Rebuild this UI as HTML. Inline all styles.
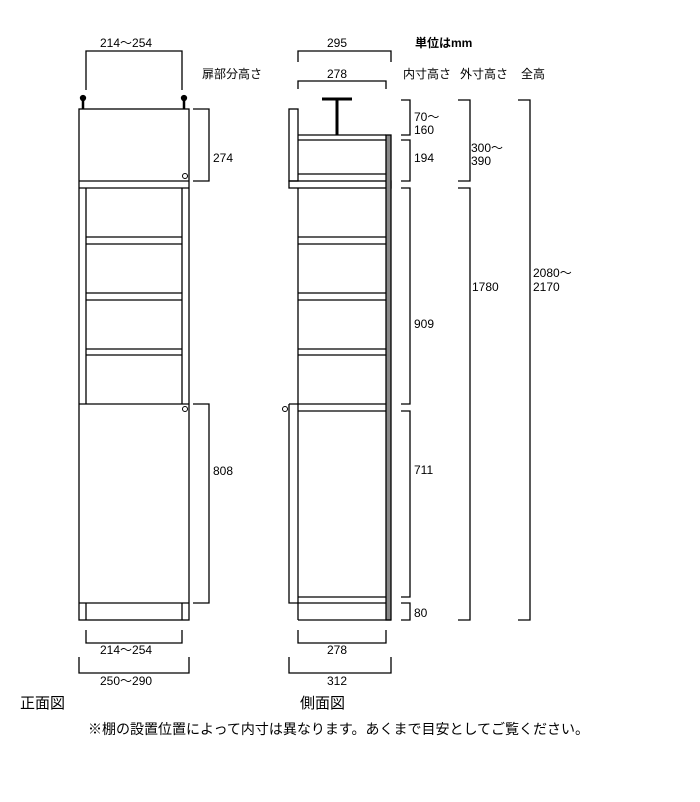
<!DOCTYPE html><html><head><style>body{margin:0;background:#fff}svg{display:block}text{font-family:"Liberation Sans","Noto Sans CJK JP",sans-serif;font-size:12px;fill:#000}</style></head><body>
<svg width="700" height="802" viewBox="0 0 700 802" fill="none" stroke="#000" stroke-width="1.3">
<!-- front view -->
<rect x="79" y="109" width="110" height="511"/>
<line x1="79" y1="181" x2="189" y2="181"/><line x1="79" y1="188" x2="189" y2="188"/>
<line x1="86" y1="188" x2="86" y2="404"/><line x1="182" y1="188" x2="182" y2="404"/>
<line x1="86" y1="237" x2="182" y2="237"/><line x1="86" y1="244" x2="182" y2="244"/>
<line x1="86" y1="293" x2="182" y2="293"/><line x1="86" y1="300" x2="182" y2="300"/>
<line x1="86" y1="349" x2="182" y2="349"/><line x1="86" y1="355" x2="182" y2="355"/>
<line x1="79" y1="404" x2="189" y2="404"/>
<line x1="79" y1="603" x2="189" y2="603"/>
<line x1="86" y1="603" x2="86" y2="620"/><line x1="182" y1="603" x2="182" y2="620"/>
<line x1="83" y1="99" x2="83" y2="109" stroke-width="2.5"/><circle cx="83" cy="98" r="2.5" fill="#000"/>
<line x1="184" y1="99" x2="184" y2="109" stroke-width="2.5"/><circle cx="184" cy="98" r="2.5" fill="#000"/>
<circle cx="185" cy="176" r="2.5" stroke-width="1"/><circle cx="185" cy="409" r="2.5" stroke-width="1"/>
<path d="M86 90V51H182V90"/>
<path d="M193 109H209V181H193"/><path d="M193 404H209V603H193"/>
<path d="M86 630V643H182V630"/><path d="M79 657V673H189V657"/>
<!-- side view -->
<rect x="289" y="109" width="9" height="72"/>
<rect x="289" y="181" width="102" height="7"/>
<line x1="298" y1="135" x2="386" y2="135"/><line x1="298" y1="140" x2="386" y2="140"/>
<line x1="298" y1="174" x2="386" y2="174"/>
<rect x="386" y="135" width="5" height="485" fill="#888"/>
<line x1="298" y1="188" x2="298" y2="620"/>
<line x1="298" y1="237" x2="386" y2="237"/><line x1="298" y1="244" x2="386" y2="244"/>
<line x1="298" y1="293" x2="386" y2="293"/><line x1="298" y1="300" x2="386" y2="300"/>
<line x1="298" y1="349" x2="386" y2="349"/><line x1="298" y1="355" x2="386" y2="355"/>
<line x1="289" y1="404" x2="386" y2="404"/><line x1="298" y1="411" x2="386" y2="411"/>
<path d="M289 404V603H298"/>
<line x1="298" y1="597" x2="386" y2="597"/><line x1="298" y1="603" x2="386" y2="603"/>
<line x1="298" y1="620" x2="391" y2="620"/>
<line x1="322" y1="99" x2="352" y2="99" stroke-width="3"/><line x1="337" y1="99" x2="337" y2="135" stroke-width="3"/>
<circle cx="285" cy="409" r="2.5" stroke-width="1"/>
<path d="M298 62V51H391V62"/><path d="M298 89V81H386V89"/>
<path d="M298 630V643H386V630"/><path d="M289 657V673H391V657"/>
<path d="M401 100H410V135H401"/><path d="M401 140H410V181H401"/>
<path d="M401 188H410V404H401"/><path d="M401 411H410V597H401"/>
<path d="M401 603H410V620H401"/>
<path d="M458 100H470V181H458"/><path d="M458 188H470V620H458"/>
<path d="M518 100H530V620H518"/>
</svg>
<div style="position:absolute;left:0;top:0;width:700px;height:802px">
<svg width="700" height="802" style="position:absolute;left:0;top:0">
<text x="100" y="47">214～254</text>
<text x="202" y="78">扉部分高さ</text>
<text x="213" y="162">274</text>
<text x="213" y="475">808</text>
<text x="100" y="654">214～254</text>
<text x="100" y="685">250～290</text>
<text x="20" y="708" style="font-size:15px">正面図</text>
<text x="327" y="47">295</text>
<text x="415" y="47" style="font-weight:bold">単位はmm</text>
<text x="327" y="78">278</text>
<text x="403" y="78">内寸高さ</text>
<text x="460" y="78">外寸高さ</text>
<text x="521" y="78">全高</text>
<text x="414" y="121">70～</text><text x="414" y="134">160</text>
<text x="414" y="162">194</text>
<text x="471" y="152">300～</text><text x="471" y="165">390</text>
<text x="472" y="291">1780</text>
<text x="533" y="277">2080～</text><text x="533" y="291">2170</text>
<text x="414" y="328">909</text>
<text x="414" y="474">711</text>
<text x="414" y="617">80</text>
<text x="327" y="654">278</text>
<text x="327" y="685">312</text>
<text x="300" y="708" style="font-size:15px">側面図</text>
<text x="88" y="734" style="font-size:14px">※棚の設置位置によって内寸は異なります。あくまで目安としてご覧ください。</text>
</svg></div>
</body></html>
